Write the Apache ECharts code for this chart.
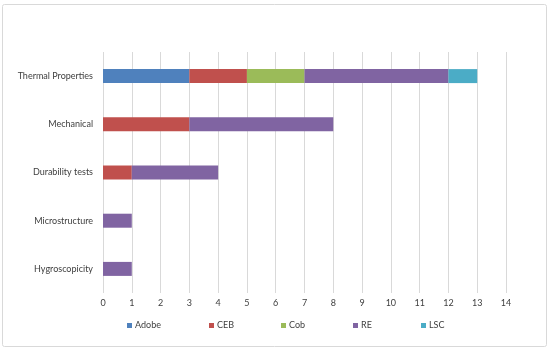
<!DOCTYPE html>
<html>
<head>
<meta charset="utf-8">
<script src="https://cdn.jsdelivr.net/npm/echarts@6/dist/echarts.min.js"></script>
<style>html,body{margin:0;padding:0;background:#fff;}#c{width:550px;height:350px;}</style>
</head>
<body>
<div id="c"></div>
<script>
const categories = ['Thermal Properties', 'Mechanical', 'Durability tests', 'Microstructure', 'Hygroscopicity'];
const seriesNames = ['Adobe', 'CEB', 'Cob', 'RE', 'LSC'];
const adobe = [3, 0, 0, 0, 0];
const ceb = [2, 3, 1, 0, 0];
const cob = [2, 0, 0, 0, 0];
const re = [5, 5, 3, 1, 1];
const lsc = [1, 0, 0, 0, 0];
const xTicks = [0, 14, 1];

const colors = ['#4F81BD', '#C0504D', '#9BBB59', '#8064A2', '#4BACC6'];
const values = [adobe, ceb, cob, re, lsc];
const legendX = [127, 209, 281, 353, 421];
const font = 'Lato, "Open Sans", sans-serif';

const chart = echarts.init(document.getElementById('c'));
chart.setOption({
  animation: false,
  color: colors,
  textStyle: { fontFamily: font },
  graphic: [{
    type: 'rect', shape: { x: 2.5, y: 4.5, width: 544, height: 342, r: 2 },
    style: { fill: 'none', stroke: '#d9d9d9', lineWidth: 1 }, silent: true
  }],
  grid: { left: 103, right: 44, top: 52, bottom: 57 },
  legend: seriesNames.map((n, i) => ({
    data: [n], left: legendX[i], top: 321, padding: 0,
    itemWidth: 5, itemHeight: 5, itemGap: 0, icon: 'rect',
    textStyle: { fontSize: 9, color: '#404040', fontFamily: font, padding: [0, 0, 0, -2] }
  })),
  xAxis: {
    type: 'value', min: xTicks[0], max: xTicks[1], interval: xTicks[2],
    axisLine: { show: false }, axisTick: { show: false },
    splitLine: { lineStyle: { color: '#d9d9d9', width: 1 } },
    axisLabel: { color: '#404040', fontSize: 9, margin: 6, fontFamily: font }
  },
  yAxis: {
    type: 'category', data: categories, inverse: true,
    axisLine: { show: false }, axisTick: { show: false },
    axisLabel: { color: '#404040', fontSize: 9, margin: 10, fontFamily: font }
  },
  series: seriesNames.map((n, i) => ({
    name: n, type: 'bar', stack: 'total', barWidth: 14,
    data: values[i].map(v => v === 0 ? null : v),
    itemStyle: { color: colors[i] }
  }))
});
</script>
</body>
</html>
